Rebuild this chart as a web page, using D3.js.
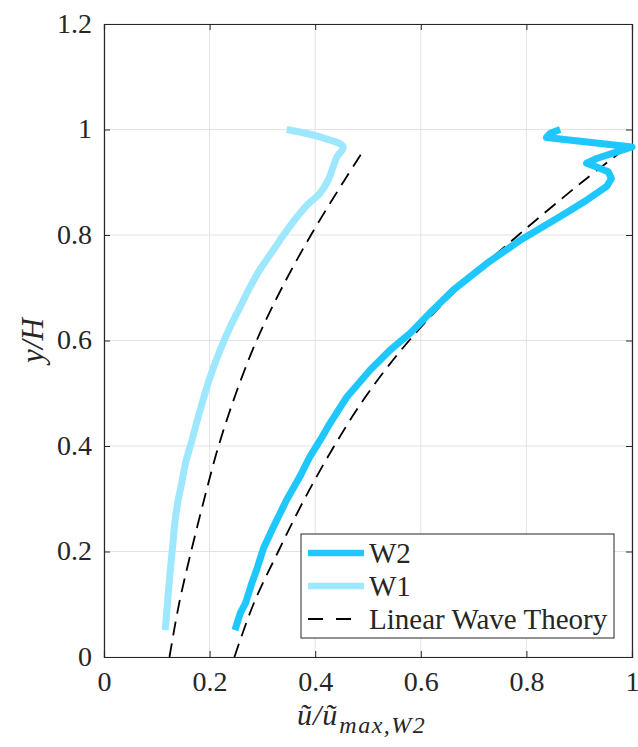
<!DOCTYPE html>
<html>
<head>
<meta charset="utf-8">
<script src="https://cdn.jsdelivr.net/npm/d3@7"></script>
<style>
  html, body { margin: 0; padding: 0; background: #fff; }
  svg { display: block; }
  text { font-family: "Liberation Serif", "DejaVu Serif", serif; fill: #262626; }
</style>
</head>
<body>
<svg id="chart" width="638" height="747"></svg>
<script>
// Velocity profiles: normalised horizontal velocity vs. relative depth
const w2U = [0.248,0.258,0.268,0.280,0.289,0.302,0.321,0.346,0.371,0.390,0.410,0.428,0.460,0.504,0.542,0.580,0.620,0.662,0.725,0.788,0.864,0.914,0.952,0.961,0.955,0.933,0.914,0.933,1.000,0.838,0.845,0.864];
const w2Y = [0.051,0.083,0.102,0.140,0.165,0.206,0.247,0.298,0.342,0.380,0.412,0.443,0.493,0.544,0.582,0.614,0.655,0.696,0.746,0.790,0.835,0.866,0.892,0.907,0.920,0.929,0.936,0.945,0.967,0.985,0.993,1.000];

const w1U = [0.116,0.120,0.125,0.130,0.134,0.140,0.147,0.155,0.165,0.182,0.201,0.220,0.239,0.258,0.277,0.295,0.321,0.340,0.360,0.385,0.409,0.425,0.434,0.441,0.453,0.409,0.346];
const w1Y = [0.051,0.100,0.159,0.210,0.253,0.295,0.329,0.370,0.405,0.468,0.531,0.582,0.626,0.664,0.702,0.734,0.772,0.800,0.827,0.857,0.879,0.905,0.929,0.948,0.967,0.986,1.000];

// Linear wave theory profiles
const lwtY   = [0, 0.1, 0.2, 0.3, 0.4, 0.5, 0.6, 0.7, 0.8, 0.9, 0.958];
const lwtW1U = [0.124,0.142,0.165,0.190,0.217,0.250,0.289,0.337,0.392,0.453,0.490];
const lwtW2U = [0.247,0.283,0.330,0.380,0.436,0.500,0.578,0.672,0.785,0.905,0.980];

const xTicks = [0, 0.2, 0.4, 0.6, 0.8, 1];
const yTicks = [0, 0.2, 0.4, 0.6, 0.8, 1, 1.2];

const legendLabels = ["W2", "W1", "Linear Wave Theory"];

const colW2 = "#1ec8ff";
const colW1 = "#9de7ff";
const axisCol = "#262626";
const gridCol = "#e3e3e3";

const svg = d3.select("#chart");
const L = 104, R = 632, T = 24, B = 657;

const x = d3.scaleLinear().domain([0, 1]).range([L, R]);
const y = d3.scaleLinear().domain([0, 1.2]).range([B, T]);

// grid
const grid = svg.append("g");
grid.selectAll(".gx").data(xTicks).join("line")
  .attr("x1", d => x(d)).attr("x2", d => x(d)).attr("y1", T).attr("y2", B)
  .attr("stroke", gridCol).attr("stroke-width", 1);
grid.selectAll(".gy").data(yTicks).join("line")
  .attr("y1", d => y(d)).attr("y2", d => y(d)).attr("x1", L).attr("x2", R)
  .attr("stroke", gridCol).attr("stroke-width", 1);

// axes with inward ticks (box on all four sides)
const fmt = d => d3.format("")(d);
const tickLen = 6;
const xAxis = svg.append("g").attr("transform", `translate(0,${B})`)
  .call(d3.axisBottom(x).tickValues(xTicks).tickSize(-tickLen).tickPadding(14).tickFormat(fmt));
const xAxisTop = svg.append("g").attr("transform", `translate(0,${T})`)
  .call(d3.axisTop(x).tickValues(xTicks).tickSize(-tickLen).tickFormat(""));
const yAxis = svg.append("g").attr("transform", `translate(${L},0)`)
  .call(d3.axisLeft(y).tickValues(yTicks).tickSize(-tickLen).tickPadding(12).tickFormat(fmt));
const yAxisR = svg.append("g").attr("transform", `translate(${R},0)`)
  .call(d3.axisRight(y).tickValues(yTicks).tickSize(-tickLen).tickFormat(""));

[xAxis, xAxisTop, yAxis, yAxisR].forEach(g => {
  g.select(".domain").attr("stroke", axisCol).attr("stroke-width", 1.2);
  g.selectAll(".tick line").attr("stroke", axisCol).attr("stroke-width", 1);
  g.selectAll(".tick text")
    .style("font-family", '"Liberation Serif", serif')
    .style("font-size", "28px").attr("fill", axisCol);
});
xAxis.selectAll(".tick text").attr("dy", "0.71em");
yAxis.selectAll(".tick text").attr("dy", "0.3em");

// series: smooth curves for the profiles, straight segments for the W2 record
const smooth = d3.line().x(d => x(d[0])).y(d => y(d[1])).curve(d3.curveCatmullRom.alpha(0.5));
const straight = d3.line().x(d => x(d[0])).y(d => y(d[1]));
const zip = (a, b) => a.map((v, i) => [v, b[i]]);

[lwtW1U, lwtW2U].forEach(u => {
  svg.append("path").datum(zip(u, lwtY)).attr("d", smooth)
    .attr("fill", "none").attr("stroke", "#000").attr("stroke-width", 1.8)
    .attr("stroke-dasharray", "14,8");
});

svg.append("path").datum(zip(w1U, w1Y)).attr("d", smooth)
  .attr("fill", "none").attr("stroke", colW1).attr("stroke-width", 7)
  .attr("stroke-linejoin", "round");
svg.append("path").datum(zip(w2U, w2Y)).attr("d", straight)
  .attr("fill", "none").attr("stroke", colW2).attr("stroke-width", 7)
  .attr("stroke-linejoin", "round");

// axis labels
svg.append("text")
  .attr("transform", `translate(43,${(T + B) / 2}) rotate(-90)`)
  .attr("text-anchor", "middle")
  .style("font-size", "31px").style("font-style", "italic")
  .text("y/H");

const xl = svg.append("text")
  .attr("x", 297).attr("y", 725)
  .attr("text-anchor", "start")
  .style("font-size", "30px").style("font-style", "italic");
xl.append("tspan").style("letter-spacing", "1px").text("ũ/ũ");
xl.append("tspan").attr("dx", 1).attr("dy", 8)
  .style("font-size", "24px").style("letter-spacing", "1.5px").text("max,W2");

// legend
const lg = svg.append("g");
lg.append("rect").attr("x", 301).attr("y", 534).attr("width", 313).attr("height", 104)
  .attr("fill", "#fff").attr("stroke", axisCol).attr("stroke-width", 1);
const legendStyles = [
  { stroke: colW2, w: 6.5, dash: null },
  { stroke: colW1, w: 6.5, dash: null },
  { stroke: "#000", w: 1.8, dash: "15,13" }
];
const rowY = [553, 586, 619];
legendLabels.forEach((lab, i) => {
  lg.append("line").attr("x1", 308).attr("x2", 364).attr("y1", rowY[i]).attr("y2", rowY[i])
    .attr("stroke", legendStyles[i].stroke).attr("stroke-width", legendStyles[i].w)
    .attr("stroke-dasharray", legendStyles[i].dash);
  lg.append("text").attr("x", 369).attr("y", rowY[i]).attr("dy", "0.35em")
    .style("font-size", "29px").attr("fill", "#000").text(lab);
});
</script>
</body>
</html>
